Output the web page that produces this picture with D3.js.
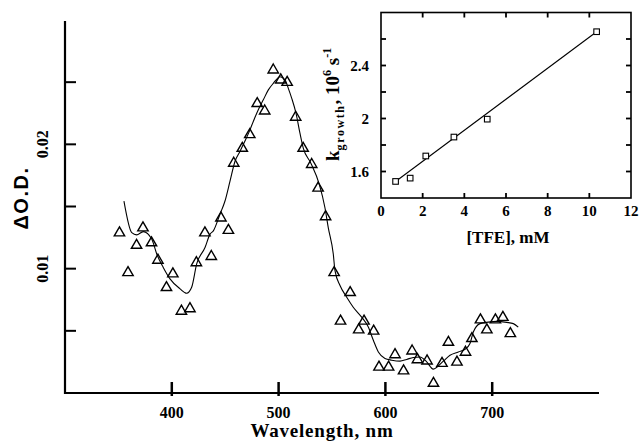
<!DOCTYPE html>
<html>
<head>
<meta charset="utf-8">
<script src="https://cdn.jsdelivr.net/npm/d3@7"></script>
<style>
html,body{margin:0;padding:0;background:#fff;}
svg{display:block;}
</style>
</head>
<body>
<svg id="chart" width="639" height="445"></svg>
<script>
// ---- Main spectrum data (triangles) ----
const wavelength = [351,359,367,373,381,387,395,401,409,417,423,431,437,446,453,458,466,473,480,487,495,502,508,516,523,531,537,544,552,558,567,575,580,589,594,603,609,617,625,630,639,645,653,659,667,675,681,689,695,703,710,717];
const deltaOD = [0.0130,0.0098,0.0120,0.0134,0.0122,0.0108,0.0086,0.0097,0.0067,0.0069,0.0106,0.0130,0.0111,0.0142,0.0132,0.0186,0.0198,0.0209,0.0234,0.0228,0.0261,0.0253,0.0251,0.0223,0.0198,0.0185,0.0166,0.0143,0.0098,0.0059,0.0082,0.0052,0.0059,0.0051,0.0022,0.0022,0.0032,0.0019,0.0035,0.0028,0.0027,0.0009,0.0025,0.0042,0.0026,0.0034,0.0045,0.0060,0.0052,0.0060,0.0062,0.0049];

// ---- Smoothed curve ----
const curveWavelength = [355.2,362.5,367.1,373.3,381.2,385.9,392.0,398.3,407.7,413.9,418.6,423.3,431.1,435.8,438.9,445.1,449.8,454.5,459.2,463.9,466.9,472.6,476.3,481.0,485.7,490.4,495.0,501.3,506.0,509.1,512.3,516.3,520.0,523.1,530.1,538.1,543.4,546.5,551.2,552.8,557.5,563.8,569.9,577.8,584.0,588.7,593.4,599.6,605.9,613.7,619.9,626.1,632.4,638.7,644.8,654.2,660.5,668.3,674.5,679.2,682.3,688.6,696.3,704.2,713.6,719.8,724.4];
const curveOD = [0.01544,0.01290,0.01272,0.01298,0.01238,0.01118,0.01010,0.00918,0.00838,0.00802,0.00850,0.01038,0.01170,0.01278,0.01304,0.01438,0.01544,0.01704,0.01864,0.01944,0.01998,0.02104,0.02184,0.02278,0.02358,0.02438,0.02490,0.02544,0.02518,0.02450,0.02370,0.02250,0.02090,0.01970,0.01850,0.01678,0.01490,0.01330,0.01118,0.00984,0.00864,0.00770,0.00690,0.00610,0.00530,0.00424,0.00330,0.00278,0.00264,0.00256,0.00270,0.00286,0.00290,0.00250,0.00192,0.00256,0.00304,0.00330,0.00352,0.00398,0.00490,0.00558,0.00570,0.00576,0.00568,0.00558,0.00530];

const mainXTicks = [400,500,600,700];
const mainXTickLabels = ["400","500","600","700"];
const mainYTicks = [0.005,0.01,0.015,0.02,0.025];
const mainYTickLabels = ["","0.01","","0.02",""];

// ---- Inset data ----
const tfe = [0.7,1.4,2.15,3.5,5.1,10.35];
const kGrowth = [1.525,1.55,1.717,1.86,1.995,2.655];
const fitTFE = [0.7,10.35];
const fitK = [1.525,2.655];
const insetXTicks = [0,2,4,6,8,10,12];
const insetXTickLabels = ["0","2","4","6","8","10","12"];
const insetYTicks = [1.6,1.8,2.0,2.2,2.4,2.6];
const insetYTickLabels = ["1.6","","2","","2.4",""];

const svg = d3.select("#chart");
const serif = "'Liberation Serif','Times New Roman',serif";
const sans = "'Liberation Sans',Arial,sans-serif";

// ===== Main chart =====
const x = d3.scaleLinear().domain([300,800]).range([65,599]);
const y = d3.scaleLinear().domain([0,0.03]).range([393,20]);

const main = svg.append("g");
main.append("line").attr("x1",x(300)).attr("x2",x(300)).attr("y1",y(0)+1).attr("y2",21)
  .attr("stroke","#000").attr("stroke-width",2.2);
main.append("line").attr("x1",x(300)).attr("x2",x(800)).attr("y1",y(0)).attr("y2",y(0))
  .attr("stroke","#000").attr("stroke-width",2.2);

main.selectAll(".xt").data(mainXTicks).enter().append("line")
  .attr("x1",d=>x(d)).attr("x2",d=>x(d)).attr("y1",y(0)-11).attr("y2",y(0)+3)
  .attr("stroke","#000").attr("stroke-width",2.5);
main.selectAll(".xl").data(mainXTicks).enter().append("text")
  .attr("x",d=>x(d)).attr("y",y(0)+25).attr("text-anchor","middle")
  .attr("font-family",serif).attr("font-weight","bold").attr("font-size",16)
  .text((d,i)=>mainXTickLabels[i]);

main.selectAll(".yt").data(mainYTicks).enter().append("line")
  .attr("x1",x(300)).attr("x2",x(300)+11).attr("y1",d=>y(d)).attr("y2",d=>y(d))
  .attr("stroke","#000").attr("stroke-width",2);
main.selectAll(".yl").data(mainYTicks).enter().append("text")
  .attr("transform",d=>`translate(48,${y(d)}) rotate(-90)`)
  .attr("text-anchor","middle")
  .attr("font-family",serif).attr("font-weight","bold").attr("font-size",16)
  .text((d,i)=>mainYTickLabels[i]);

main.append("text").attr("x",322).attr("y",437).attr("text-anchor","middle")
  .attr("font-family",serif).attr("font-weight","bold").attr("font-size",19)
  .attr("letter-spacing",0.8)
  .text("Wavelength, nm");
main.append("text").attr("transform","translate(28,198) rotate(-90)").attr("text-anchor","middle")
  .attr("font-family",sans).attr("font-weight","bold").attr("font-size",20)
  .attr("letter-spacing",1.5)
  .text("ΔO.D.");

const line = d3.line().x(d=>x(d[0])).y(d=>y(d[1])).curve(d3.curveMonotoneX);
main.append("path").datum(curveWavelength.map((w,i)=>[w,curveOD[i]]))
  .attr("d",line).attr("fill","none").attr("stroke","#000").attr("stroke-width",1.1);

const tri = "M0,-5.2L5.2,3.8L-5.2,3.8Z";
main.selectAll(".tri").data(wavelength.map((w,i)=>[w,deltaOD[i]])).enter().append("path")
  .attr("d",tri).attr("transform",d=>`translate(${x(d[0])},${y(d[1])+0.7})`)
  .attr("fill","none").attr("stroke","#000").attr("stroke-width",1.4);

// ===== Inset =====
const ix = d3.scaleLinear().domain([0,12]).range([381,631]);
const iy = d3.scaleLinear().domain([1.4,2.8]).range([198,12.5]);
const inset = svg.append("g");
inset.append("rect").attr("x",ix(0)).attr("y",iy(2.8)).attr("width",ix(12)-ix(0)).attr("height",iy(1.4)-iy(2.8))
  .attr("fill","none").attr("stroke","#000").attr("stroke-width",1.6);

const tickLen = 5;
inset.selectAll(".ixb").data(insetXTicks.slice(1,-1)).enter().append("line")
  .attr("x1",d=>ix(d)).attr("x2",d=>ix(d)).attr("y1",iy(1.4)).attr("y2",iy(1.4)-tickLen)
  .attr("stroke","#000").attr("stroke-width",1.8);
inset.selectAll(".ixt").data(insetXTicks.slice(1,-1)).enter().append("line")
  .attr("x1",d=>ix(d)).attr("x2",d=>ix(d)).attr("y1",iy(2.8)).attr("y2",iy(2.8)+tickLen)
  .attr("stroke","#000").attr("stroke-width",1.8);
inset.selectAll(".iyl").data(insetYTicks).enter().append("line")
  .attr("x1",ix(0)).attr("x2",ix(0)+tickLen).attr("y1",d=>iy(d)).attr("y2",d=>iy(d))
  .attr("stroke","#000").attr("stroke-width",1.8);
inset.selectAll(".iyr").data(insetYTicks).enter().append("line")
  .attr("x1",ix(12)).attr("x2",ix(12)-tickLen).attr("y1",d=>iy(d)).attr("y2",d=>iy(d))
  .attr("stroke","#000").attr("stroke-width",1.8);

inset.selectAll(".ixlab").data(insetXTicks).enter().append("text")
  .attr("x",d=>ix(d)).attr("y",216).attr("text-anchor","middle")
  .attr("font-family",serif).attr("font-weight","bold").attr("font-size",15)
  .text((d,i)=>insetXTickLabels[i]);
inset.selectAll(".iylab").data(insetYTicks).enter().append("text")
  .attr("x",369).attr("y",d=>iy(d)+5).attr("text-anchor","end")
  .attr("font-family",serif).attr("font-weight","bold").attr("font-size",15)
  .text((d,i)=>insetYTickLabels[i]);

inset.append("text").attr("x",508).attr("y",243).attr("text-anchor","middle")
  .attr("font-family",serif).attr("font-weight","bold").attr("font-size",17)
  .text("[TFE], mM");

const kl = inset.append("text").attr("transform","translate(339,161) rotate(-90)")
  .attr("font-family",serif).attr("font-weight","bold").attr("font-size",19);
kl.append("tspan").text("k");
kl.append("tspan").attr("font-size",12).attr("dy",5).attr("letter-spacing",1.6).text("growth");
kl.append("tspan").attr("dy",-5).text(", 10");
kl.append("tspan").attr("font-size",12).attr("dy",-8).text("6");
kl.append("tspan").attr("dy",8).text(" s");
kl.append("tspan").attr("font-size",12).attr("dy",-8).text("-1");

inset.append("line").attr("x1",ix(fitTFE[0])).attr("y1",iy(fitK[0])).attr("x2",ix(fitTFE[1])).attr("y2",iy(fitK[1]))
  .attr("stroke","#000").attr("stroke-width",1.1);
inset.selectAll(".sq").data(tfe.map((t,i)=>[t,kGrowth[i]])).enter().append("rect")
  .attr("x",d=>ix(d[0])-2.8).attr("y",d=>iy(d[1])-2.8).attr("width",5.6).attr("height",5.6)
  .attr("fill","#fff").attr("stroke","#000").attr("stroke-width",1.1);
</script>
</body>
</html>
